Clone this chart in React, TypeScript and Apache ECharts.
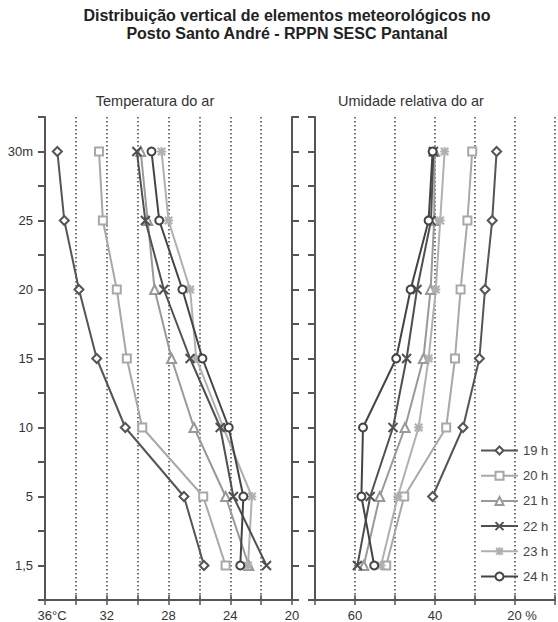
import React, { useEffect, useRef } from "react";
import * as echarts from "echarts";

// Heights, bottom to top
const heightLabels = ["1,5", "5", "10", "15", "20", "25", "30m"];
const seriesNames = ["19 h", "20 h", "21 h", "22 h", "23 h", "24 h"];

// Air temperature (°C), bottom to top
const temp19 = [25.7, 27.0, 30.8, 32.65, 33.8, 34.75, 35.2];
const temp20 = [24.3, 25.75, 29.7, 30.7, 31.35, 32.25, 32.5];
const temp21 = [22.8, 24.3, 26.35, 27.8, 28.9, 29.35, 29.8];
const temp22 = [21.65, 23.8, 24.65, 26.6, 28.3, 29.5, 30.05];
const temp23 = [22.85, 22.6, 24.45, 26.2, 26.6, 28.0, 28.45];
const temp24 = [23.35, 23.15, 24.1, 25.8, 27.1, 28.6, 29.1];

// Relative humidity (%), bottom to top
const hum19 = [null, 40.6, 33.0, 28.9, 27.5, 25.7, 24.6];
const hum20 = [52.2, 47.7, 37.2, 35.0, 33.6, 31.9, 30.7];
const hum21 = [57.8, 53.8, 47.5, 42.9, 41.1, 40.2, 40.1];
const hum22 = [59.4, 56.2, 50.5, 47.1, 44.5, 41.0, 40.4];
const hum23 = [53.5, 49.3, 44.1, 41.6, 39.8, 38.7, 37.6];
const hum24 = [55.2, 58.4, 58.0, 49.7, 46.1, 41.6, 40.6];

const tempSeries = [temp19, temp20, temp21, temp22, temp23, temp24];
const humSeries = [hum19, hum20, hum21, hum22, hum23, hum24];

const FONT = "Liberation Sans, Arial, sans-serif";
const AXIS = "#555";

const styles = [
  { color: "#555555", symbol: "diamond", size: 9, hollow: true },
  { color: "#a8a8a8", symbol: "rect", size: 8, hollow: true },
  { color: "#999999", symbol: "triangle", size: 9, hollow: true },
  { color: "#505050", symbol: "path://M0,0L10,10M10,0L0,10", size: 9, hollow: false },
  { color: "#b0b0b0", symbol: "path://M0,0L10,10M10,0L0,10M5,-1L5,11M-1,5L11,5", size: 9, hollow: false },
  { color: "#444444", symbol: "circle", size: 8, hollow: true },
];

function makeSeries(values: (number | null)[][], xIdx: number, yIdx: number) {
  return values.map((vals, k) => {
    const st = styles[k];
    const data: number[][] = [];
    vals.forEach((v, i) => {
      if (v !== null && v !== undefined) data.push([v, i]);
    });
    return {
      name: seriesNames[k],
      type: "line",
      xAxisIndex: xIdx,
      yAxisIndex: yIdx,
      data,
      symbol: st.symbol,
      symbolSize: st.size,
      showAllSymbol: true,
      lineStyle: { color: st.color, width: 2 },
      itemStyle: {
        color: st.hollow ? "#ffffff" : st.color,
        borderColor: st.color,
        borderWidth: 2,
      },
      emphasis: { disabled: true },
      z: k === 1 || k === 2 || k === 4 ? 2 : 3,
    };
  });
}

export default function App() {
  const ref = useRef<HTMLDivElement>(null);
  useEffect(() => {
    if (!ref.current) return;
    const chart = echarts.init(ref.current, undefined, { renderer: "svg" });

    const yBase = {
      type: "value",
      min: -0.5,
      max: 6.5,
      interval: 0.5,
      axisLine: { show: true, onZero: false, lineStyle: { color: AXIS, width: 2 } },
      axisTick: { show: true, length: 7, lineStyle: { color: AXIS, width: 2 } },
      splitLine: { show: false },
    };

    const xLabelStyle = { color: "#333", fontSize: 13, fontFamily: FONT, margin: 9 };

    const option = {
      animation: false,
      backgroundColor: "#ffffff",
      grid: [
        { left: 45, top: 117, width: 247, height: 483 },
        { left: 315, top: 117, width: 247.5, height: 483 },
      ],
      xAxis: [
        {
          gridIndex: 0,
          type: "value",
          inverse: true,
          min: 20,
          max: 36,
          interval: 2,
          position: "bottom",
          axisLine: { show: true, onZero: false, lineStyle: { color: AXIS, width: 2 } },
          axisTick: { show: true, length: 5, lineStyle: { color: AXIS, width: 1.5 } },
          axisLabel: {
            ...xLabelStyle,
            formatter: (v: number) =>
              v === 36 ? "{a|36°C}" : v % 4 === 0 ? String(v) : "",
            rich: { a: { padding: [0, 0, 0, 14], fontSize: 13, fontFamily: FONT, color: "#333" } },
          },
          splitLine: { show: true, lineStyle: { color: "#444", width: 1.5, type: [1.5, 2.5] } },
        },
        {
          gridIndex: 0,
          type: "value",
          inverse: true,
          min: 20,
          max: 36,
          interval: 2,
          position: "bottom",
          axisLine: { show: false, onZero: false },
          axisTick: { show: true, inside: true, length: 5, lineStyle: { color: AXIS, width: 1.5 } },
          axisLabel: { show: false },
          splitLine: { show: false },
        },
        {
          gridIndex: 1,
          type: "value",
          inverse: true,
          min: 10,
          max: 70,
          interval: 10,
          position: "bottom",
          axisLine: { show: true, onZero: false, lineStyle: { color: AXIS, width: 2 } },
          axisTick: { show: true, length: 5, lineStyle: { color: AXIS, width: 1.5 } },
          axisLabel: {
            ...xLabelStyle,
            formatter: (v: number) =>
              v === 20 ? "{a|20 %}" : v === 60 || v === 40 ? String(v) : "",
            rich: { a: { padding: [0, 0, 0, 14], fontSize: 13, fontFamily: FONT, color: "#333" } },
          },
          splitLine: { show: true, lineStyle: { color: "#444", width: 1.5, type: [1.5, 2.5] } },
        },
        {
          gridIndex: 1,
          type: "value",
          inverse: true,
          min: 10,
          max: 70,
          interval: 10,
          position: "bottom",
          axisLine: { show: false, onZero: false },
          axisTick: { show: true, inside: true, length: 5, lineStyle: { color: AXIS, width: 1.5 } },
          axisLabel: { show: false },
          splitLine: { show: false },
        },
      ],
      yAxis: [
        {
          ...yBase,
          gridIndex: 0,
          position: "left",
          axisLabel: {
            color: "#333",
            fontSize: 13,
            fontFamily: FONT,
            margin: 12,
            formatter: (v: number) =>
              Number.isInteger(v) && v >= 0 && v < heightLabels.length ? heightLabels[v] : "",
          },
        },
        {
          ...yBase,
          gridIndex: 0,
          position: "right",
          axisLabel: { show: false },
        },
        {
          ...yBase,
          gridIndex: 1,
          position: "left",
          axisLabel: { show: false },
        },
      ],
      legend: {
        data: seriesNames,
        orient: "vertical",
        left: 475,
        top: 439,
        itemWidth: 37,
        itemHeight: 10,
        itemGap: 12.2,
        textStyle: { color: "#444", fontSize: 13, fontFamily: FONT },
        selectedMode: false,
      },
      graphic: [
        {
          type: "text",
          x: 287,
          y: 15,
          style: {
            text: "Distribuição vertical de elementos meteorológicos no",
            font: "bold 16px Liberation Sans, Arial, sans-serif",
            fill: "#222",
            textAlign: "center",
            textVerticalAlign: "middle",
          },
        },
        {
          type: "text",
          x: 287,
          y: 33,
          style: {
            text: "Posto Santo André - RPPN SESC Pantanal",
            font: "bold 16px Liberation Sans, Arial, sans-serif",
            fill: "#222",
            textAlign: "center",
            textVerticalAlign: "middle",
          },
        },
        {
          type: "text",
          x: 155,
          y: 101,
          style: {
            text: "Temperatura do ar",
            font: "14.5px Liberation Sans, Arial, sans-serif",
            fill: "#333",
            textAlign: "center",
            textVerticalAlign: "middle",
          },
        },
        {
          type: "text",
          x: 411,
          y: 101,
          style: {
            text: "Umidade relativa do ar",
            font: "14.5px Liberation Sans, Arial, sans-serif",
            fill: "#333",
            textAlign: "center",
            textVerticalAlign: "middle",
          },
        },
      ],
      series: [...makeSeries(tempSeries, 0, 0), ...makeSeries(humSeries, 2, 2)],
    };

    chart.setOption(option as any);
    return () => chart.dispose();
  }, []);

  return (
    <div
      ref={ref}
      style={{ position: "fixed", left: 0, top: 0, width: 558, height: 622, background: "#fff" }}
    />
  );
}
